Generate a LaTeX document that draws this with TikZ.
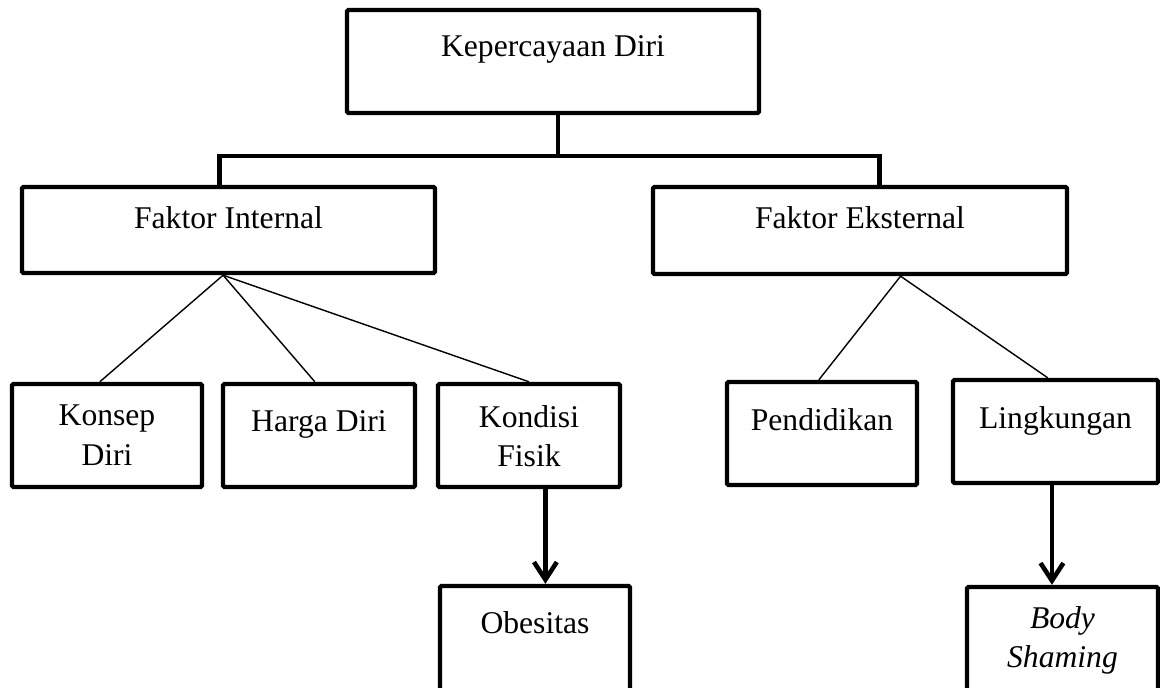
\documentclass[tikz,border=0pt]{standalone}
\usepackage{fontspec}
\setmainfont{Liberation Serif}
\usetikzlibrary{positioning,fit,calc,arrows.meta}

\begin{document}
\begin{tikzpicture}[x=0.02cm, y=-0.02cm,
    box/.style={draw, line width=2.5pt, rounded corners=0.8pt, inner sep=0pt},
    txt/.style={inner sep=0pt, align=center, font=\fontsize{18}{22.7}\selectfont},
    bus/.style={line width=2.6pt},
    link/.style={line width=0.8pt},
    arr/.style={line width=2.6pt,
        -{Straight Barb[length=10pt, width=13pt, line width=2.6pt]}}
    ]
    \clip (0,0) rectangle (1160,687);
    \fill[white] (0,0) rectangle (1160,687);

    % boxes
    \node[box, fit={(347,10) (759,113)}] (kd) {};
    \node[box, fit={(22,187) (435,273)}] (fi) {};
    \node[box, fit={(653,187) (1067,274)}] (fe) {};
    \node[box, fit={(12,384) (202,487)}] (konsep) {};
    \node[box, fit={(223,384) (415,487)}] (harga) {};
    \node[box, fit={(438,384) (620,487)}] (kondisi) {};
    \node[box, fit={(727,382) (917,485)}] (pendidikan) {};
    \node[box, fit={(953,380) (1158,483)}] (lingkungan) {};
    \node[box, fit={(440,586) (630,720)}] (obesitas) {};
    \node[box, fit={(967,587) (1158,720)}] (body) {};

    % texts
    \node[txt, below=0.54cm of kd.north] (kd-t) {Kepercayaan Diri};
    \node[txt, below=0.42cm of fi.north] (fi-t) {Faktor Internal};
    \node[txt, below=0.42cm of fe.north] (fe-t) {Faktor Eksternal};
    \node[txt, below=0.46cm of konsep.north] (konsep-t) {Konsep\\Diri};
    \node[txt, below=0.56cm of harga.north] (harga-t) {Harga Diri};
    \node[txt, below=0.46cm of kondisi.north] (kondisi-t) {Kondisi\\Fisik};
    \node[txt, below=0.56cm of pendidikan.north] (pendidikan-t) {Pendidikan};
    \node[txt, below=0.56cm of lingkungan.north] (lingkungan-t) {Lingkungan};
    \node[txt, below=0.54cm of obesitas.north] (obesitas-t) {Obesitas};
    \node[txt, below=0.42cm of body.north] (body-t) {\itshape Body\\\itshape Shaming};

    % tree lines
    \draw[bus] ($(kd.south west)!.512!(kd.south east)$) -- ++(0,41);
    \draw[bus] ($(fi.north west)!.479!(fi.north east)$) -- ++(0,-29)
        -| ($(fe.north west)!.546!(fe.north east)$);

    \coordinate (fi-apex) at ($(fi.south west)!.487!(fi.south east)$);
    \coordinate (fe-apex) at ($(fe.south west)!.597!(fe.south east)$);
    \draw[link] (fi-apex) -- ($(konsep.north west)!.463!(konsep.north east)$);
    \draw[link] (fi-apex) -- ($(harga.north west)!.479!(harga.north east)$);
    \draw[link] (fi-apex) -- (kondisi.north);
    \draw[link] (fe-apex) -- ($(pendidikan.north west)!.484!(pendidikan.north east)$);
    \draw[link] (fe-apex) -- ($(lingkungan.north west)!.463!(lingkungan.north east)$);

    % arrows
    \coordinate (kf) at ($(kondisi.south west)!.588!(kondisi.south east)$);
    \coordinate (lk) at ($(lingkungan.south west)!.483!(lingkungan.south east)$);
    \draw[arr] (kf) -- (kf |- obesitas.north);
    \draw[arr] (lk) -- (lk |- body.north);
\end{tikzpicture}
\end{document}
